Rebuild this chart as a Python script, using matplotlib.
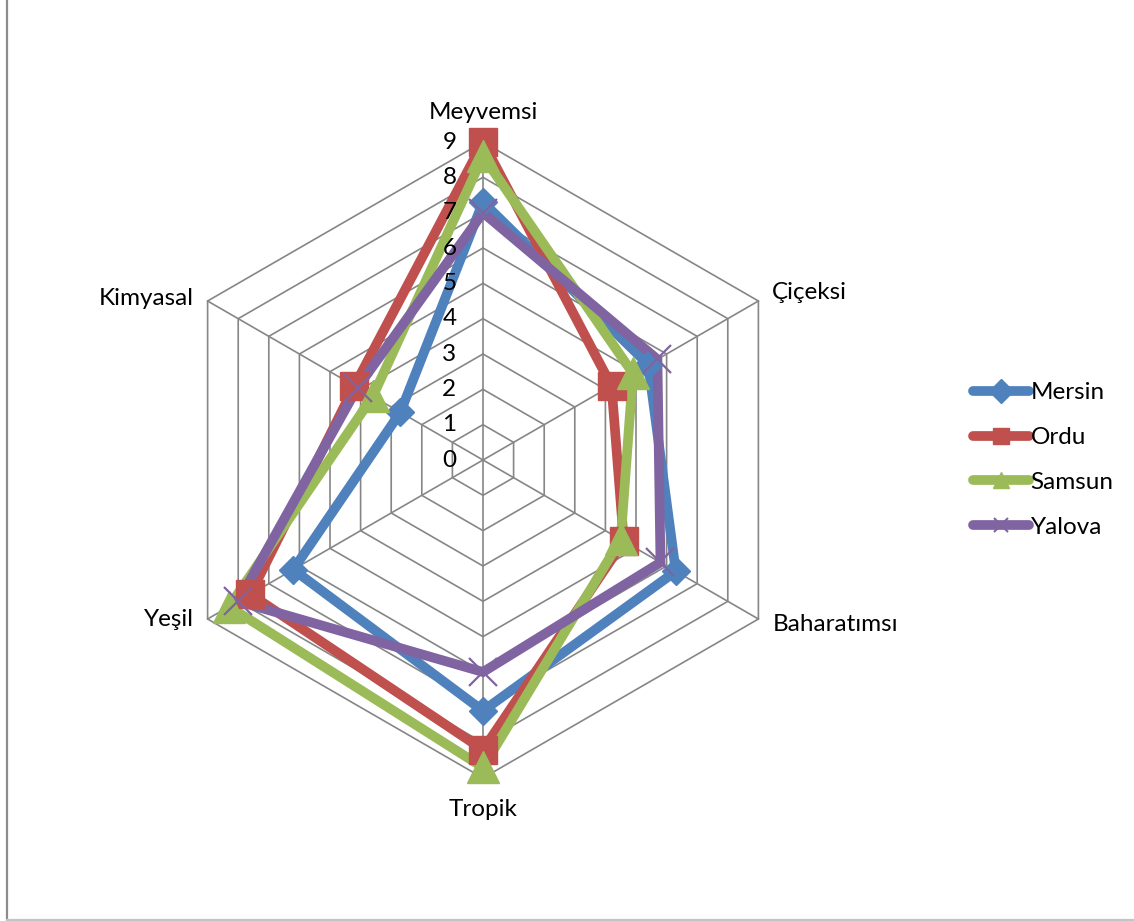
import numpy as np
import matplotlib
matplotlib.use("Agg")
import matplotlib.pyplot as plt
from matplotlib.lines import Line2D

plt.rcParams['font.family'] = ['Lato', 'DejaVu Sans']

categories = ['Meyvemsi', 'Çiçeksi', 'Baharatımsı', 'Tropik', 'Yeşil', 'Kimyasal']
tick_values = list(range(0, 10))
r_max = 9

mersin = [7.3, 5.4, 6.3, 7.1, 6.2, 2.7]
ordu = [9.0, 4.2, 4.6, 8.2, 7.6, 4.2]
samsun = [8.6, 4.9, 4.5, 8.7, 8.3, 3.6]
yalova = [7.0, 5.7, 5.8, 6.0, 8.0, 4.1]

series = [
    ('Mersin', mersin, '#4F81BD', 'D', 14.5),
    ('Ordu', ordu, '#C0504D', 's', 20),
    ('Samsun', samsun, '#9BBB59', '^', 23),
    ('Yalova', yalova, '#8064A2', 'x', 20),
]

# spokes go clockwise starting at the top
n = len(categories)
angles = np.deg2rad(90 - 360.0 / n * np.arange(n))
ux, uy = np.cos(angles), np.sin(angles)


def to_xy(vals):
    v = np.asarray(vals, dtype=float)
    return v * ux, v * uy


W, H = 1134, 921
fig = plt.figure(figsize=(W / 100, H / 100), dpi=100)

# axes box in pixels, centre of the web at (483, 460) from top-left
cx, cy = 483, 460
half = 400
ax = fig.add_axes([(cx - half) / W, (H - cy - half) / H, 2 * half / W, 2 * half / H])
lim = half / (318 / r_max)
ax.set_xlim(-lim, lim)
ax.set_ylim(-lim, lim)
ax.set_aspect('equal')
ax.axis('off')

fs = 17.5
grid_col = '#868686'
for r in tick_values[1:]:
    gx, gy = to_xy([r] * n)
    ax.plot(np.append(gx, gx[0]), np.append(gy, gy[0]), color=grid_col, lw=1.2, zorder=1)
for i in range(n):
    ax.plot([0, r_max * ux[i]], [0, r_max * uy[i]], color=grid_col, lw=1.2, zorder=1)

# value labels along the top spoke
for t in tick_values:
    ax.text(-0.75, t, str(t), ha='right', va='center', fontsize=fs, color='black', zorder=5)

# category labels
label_offsets = [(0, 14), (10, 6), (10, -4), (0, -15), (-10, 0), (-10, 2)]
aligns = [('center', 'bottom'), ('left', 'center'), ('left', 'center'),
          ('center', 'top'), ('right', 'center'), ('right', 'center')]
for i, name in enumerate(categories):
    ha, va = aligns[i]
    ax.annotate(name, (r_max * ux[i], r_max * uy[i]), xytext=label_offsets[i],
                textcoords='offset points', ha=ha, va=va, fontsize=fs, color='black')

# lines first, markers on top
for name, vals, col, mk, ms in series:
    x, y = to_xy(vals)
    ax.plot(np.append(x, x[0]), np.append(y, y[0]), color=col, lw=7,
            solid_joinstyle='miter', zorder=3)
for name, vals, col, mk, ms in series:
    x, y = to_xy(vals)
    if mk == 'x':
        ax.plot(x, y, ls='none', marker=mk, ms=ms, mew=1.6, color=col, zorder=4)
    else:
        ax.plot(x, y, ls='none', marker=mk, ms=ms, mfc=col, mec=col, mew=1, zorder=4)

handles = []
for name, vals, col, mk, ms in series:
    handles.append(Line2D([], [], color=col, lw=7, solid_capstyle='round', marker=mk,
                          ms=12 if mk != 'x' else 10, mfc=col, mec=col,
                          mew=1 if mk != 'x' else 1.5, label=name))
fig.legend(handles=handles, loc='center left', bbox_to_anchor=(961 / W, 1 - 460 / H),
           frameon=False, fontsize=fs, handlelength=2.3, handletextpad=0.06,
           labelspacing=0.98, borderpad=0)

# chart frame edges
fig.add_artist(Line2D([6.5 / W, 6.5 / W], [1.5 / H, 1], transform=fig.transFigure,
                      color='#8c8c8c', lw=1.6))
fig.add_artist(Line2D([6.5 / W, 1], [1.5 / H, 1.5 / H], transform=fig.transFigure,
                      color='#c4c4c4', lw=1.6))

fig.savefig('out.png', dpi=100, facecolor='white')
